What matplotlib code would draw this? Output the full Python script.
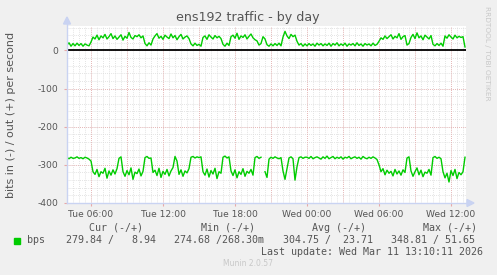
import numpy as np
import pandas as pd
import matplotlib
matplotlib.use("Agg")
import matplotlib.pyplot as plt
from matplotlib.patches import Rectangle

# ---- data (bits per second, 10-minute samples from Tue 04:00) ----
start = "2026-03-10 04:00"
out_bps = [
    14, 20, 11, 18, 12, 19,
    13, 18, 11, 17, 14, 12,
    22, 35, 30, 40, 28, 38,
    33, 42, 30, 36, 44, 31,
    38, 29, 35, 41, 27, 37,
    32, 47, 34, 30, 39, 36,
    41, 33, 38, 18, 12, 20,
    14, 30, 38, 44, 32, 37,
    29, 40, 35, 31, 43, 33,
    39, 28, 36, 42, 30, 35,
    38, 31, 17, 12, 19, 13,
    16, 11, 34, 38, 29, 41,
    35, 30, 39, 33, 37, 31,
    16, 11, 19, 13, 36, 40,
    32, 45, 29, 38, 34, 41,
    30, 37, 43, 33, 28, 25,
    14, 18, 36, 30, 15, 11,
    17, 12, 18, 13, 19, 12,
    35, 50, 38, 31, 42, 36,
    40, 24, 14, 18, 11, 17,
    12, 18, 13, 17, 11, 19,
    14, 18, 12, 17, 13, 19,
    11, 18, 14, 20, 12, 17,
    13, 19, 11, 17, 14, 18,
    12, 20, 13, 17, 11, 18,
    14, 17, 12, 19, 13, 16,
    24, 33, 29, 38, 31, 36,
    41, 30, 37, 33, 44, 29,
    36, 39, 14, 18, 34, 42,
    31, 46, 33, 38, 28, 40,
    35, 30, 39, 16, 12, 18,
    13, 19, 11, 38, 32, 41,
    35, 30, 40, 33, 37, 34,
    36, 9,
]
in_bps = [
    281, 284, 280, 283, 282, 279,
    283, 281, 284, 280, 282, 285,
    290, 318, 325, 312, 331, 318,
    322, 309, 335, 316, 327, 313,
    324, 310, 283, 279, 318, 330,
    315, 326, 308, 338, 319, 323,
    311, 329, 317, 281, 278, 283,
    282, 320, 314, 328, 309, 333,
    317, 325, 312, 329, 316, 307,
    278, 290, 325, 313, 330, 316,
    321, 310, 280, 278, 282, 279,
    281, 279, 318, 327, 311, 332,
    315, 324, 309, 336, 318, 322,
    280, 277, 282, 279, 316, 328,
    313, 334, 318, 325, 310, 330,
    317, 322, 312, 327, 281, 278,
    283, 280, np.nan, 318, 333, 285,
    280, 283, 279, 282, 284, 281,
    316, 338, 310, 282, 279, 284,
    340, 305, 281, 279, 283, 280,
    280, 283, 278, 284, 281, 279,
    282, 285, 279, 283, 277, 284,
    281, 278, 284, 280, 283, 279,
    285, 280, 282, 278, 284, 281,
    279, 283, 280, 285, 278, 282,
    284, 280, 283, 279, 282, 286,
    300, 318, 310, 326, 314, 322,
    317, 329, 312, 324, 316, 327,
    313, 320, 282, 279, 316, 330,
    318, 308, 326, 314, 331, 319,
    322, 312, 327, 281, 278, 283,
    280, 284, 318, 334, 322, 345,
    315, 328, 312, 336, 320, 326,
    318, 280,
]
tick_labels = ["Tue 06:00", "Tue 12:00", "Tue 18:00", "Wed 00:00", "Wed 06:00", "Wed 12:00"]
tick_times = ["2026-03-10 06:00", "2026-03-10 12:00", "2026-03-10 18:00",
              "2026-03-11 00:00", "2026-03-11 06:00", "2026-03-11 12:00"]
y_ticks = [-400, -300, -200, -100, 0]
headers = ["Cur (-/+)", "Min (-/+)", "Avg (-/+)", "Max (-/+)"]
values = ["279.84 /   8.94", "274.68 /268.30m", "304.75 /  23.71", "348.81 / 51.65"]

times = pd.date_range(start, periods=len(out_bps), freq="10min")
out_arr = np.array(out_bps, dtype=float)
in_arr = -np.array(in_bps, dtype=float)

W, H = 497, 275
fig = plt.figure(figsize=(W / 100, H / 100), dpi=100)
fig.patch.set_facecolor("#F0F0F0")

def px(x, y):
    return x / W, 1 - y / H

l, t = px(67, 26)
r, b = px(466, 203)
ax = fig.add_axes([l, b, r - l, t - b])
ax.set_facecolor("white")

x0 = pd.Timestamp("2026-03-10 04:00")
x1 = pd.Timestamp("2026-03-11 13:15")
ax.set_xlim(x0, x1)
ax.set_ylim(-400, 64)

# grid
minor_c = "#DADADA"
major_c = "#E8A8A8"
for tt in pd.date_range(x0, x1, freq="30min"):
    ax.axvline(tt, color=minor_c, lw=0.6, ls=(0, (1, 1.5)), zorder=1)
for tt in pd.date_range("2026-03-10 06:00", x1, freq="3h"):
    ax.axvline(tt, color=major_c, lw=0.6, ls=(0, (1, 1.5)), zorder=1.1)
for yv in range(-380, 64, 20):
    ax.axhline(yv, color=minor_c, lw=0.6, ls=(0, (1, 1.5)), zorder=1)
for yv in y_ticks:
    ax.axhline(yv, color=major_c, lw=0.6, ls=(0, (1, 1.5)), zorder=1.1)

ax.plot(times, out_arr, color="#00CC00", lw=1.0, zorder=3)
ax.plot(times, in_arr, color="#00CC00", lw=1.0, zorder=3)
ax.axhline(0, color="black", lw=1.3, zorder=4)

for s in ax.spines.values():
    s.set_visible(False)
ax.set_xticks([pd.Timestamp(v) for v in tick_times])
ax.set_xticklabels(tick_labels)
ax.set_yticks(y_ticks)
ax.set_yticklabels([str(v) for v in y_ticks])
ax.tick_params(axis="both", length=2, color=major_c, labelsize=6.6,
               labelcolor="#555555", pad=3)
ax.tick_params(axis="y", pad=4)

# axis lines with arrows
axc = "#C9D3F2"
fig.add_artist(plt.Line2D([67 / W, 470 / W], [1 - 203 / H] * 2, color=axc, lw=1.0))
fig.add_artist(plt.Line2D([67 / W] * 2, [1 - 203 / H, 1 - 22 / H], color=axc, lw=1.0))
fig.add_artist(plt.Polygon([px(467, 199.5), px(467, 206.5), px(474, 203)],
                           closed=True, color=axc, transform=fig.transFigure))
fig.add_artist(plt.Polygon([px(63.5, 24), px(70.5, 24), px(67, 17)],
                           closed=True, color=axc, transform=fig.transFigure))

# texts
fig.text(248 / W, 1 - 17 / H, "ens192 traffic - by day", ha="center", va="center",
         fontsize=9.1, color="#555555")
fig.text(11 / W, 1 - 115 / H, "bits in (-) / out (+) per second", ha="center",
         va="center", rotation=90, fontsize=8, color="#555555")
fig.text(487 / W, 1 - 53 / H, "RRDTOOL / TOBI OETIKER", ha="center", va="center",
         rotation=270, fontsize=5.3, color="#C8C8C8")

mono = "DejaVu Sans Mono"
hx = [89, 201, 312, 423]
vx = [66, 174, 283, 391]
for x, hd in zip(hx, headers):
    fig.text(x / W, 1 - 228 / H, hd, ha="left", va="center", family=mono,
             fontsize=7.2, color="#555555")
for x, vv in zip(vx, values):
    fig.text(x / W, 1 - 240 / H, vv, ha="left", va="center", family=mono,
             fontsize=7.2, color="#555555")
fig.add_artist(Rectangle(px(14, 244), 6 / W, 6 / H, color="#00CC00",
                         transform=fig.transFigure))
fig.text(27 / W, 1 - 240 / H, "bps", ha="left", va="center", family=mono,
         fontsize=7.2, color="#555555")
fig.text(483 / W, 1 - 252 / H, "Last update: Wed Mar 11 13:10:11 2026", ha="right",
         va="center", family=mono, fontsize=7.2, color="#555555")
fig.text(248 / W, 1 - 264 / H, "Munin 2.0.57", ha="center", va="center",
         fontsize=5.5, color="#C8C8C8")

fig.savefig("out.png", dpi=100, facecolor=fig.get_facecolor())
